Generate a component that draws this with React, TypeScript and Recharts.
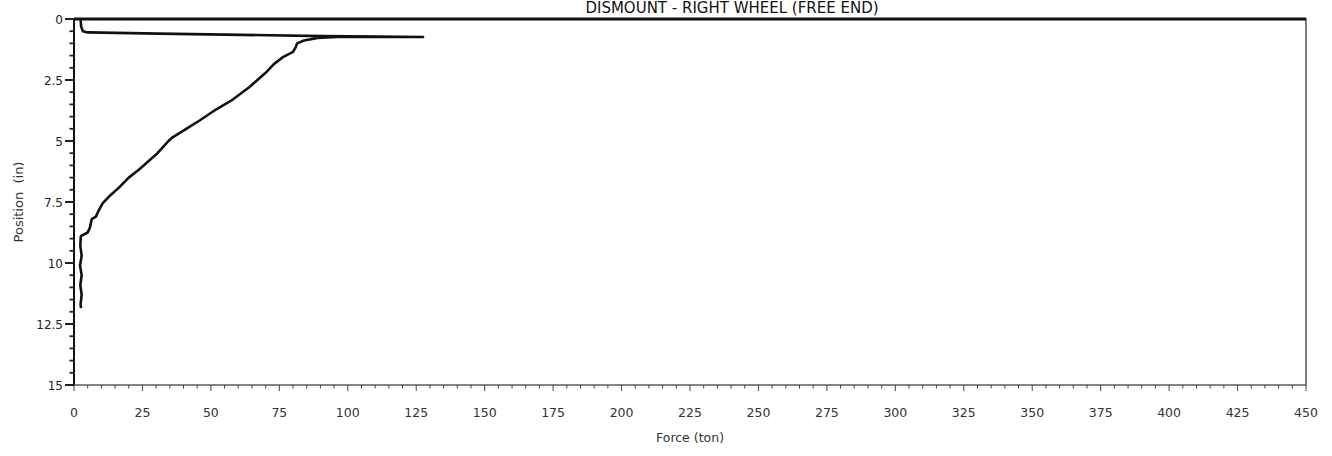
import { LineChart, Line, XAxis, YAxis, ReferenceArea, ReferenceLine } from 'recharts';

// force (ton), in drawing order
const force = [
  2.4, 2.6, 3.2, 5, 31, 61, 91, 111, 127.5, 96, 89, 84, 81.5, 81, 80, 76.5, 73, 70.5, 67, 64,
  58, 52, 46, 41, 36, 34.5, 32.5, 30.5, 28, 24, 20, 16.5, 13.5, 10.5, 9, 8, 6.5, 5.8, 5, 2.5,
  2.3, 2.8, 2.2, 2.8, 2.3, 2.8, 2.4, 2.6,
];

// position (in) matching each force value
const position = [
  0, 0.3, 0.5, 0.55, 0.6, 0.65, 0.7, 0.72, 0.74, 0.74, 0.78, 0.88, 1.0, 1.15, 1.35, 1.55, 1.85, 2.15, 2.5, 2.8,
  3.3, 3.7, 4.15, 4.5, 4.85, 5.0, 5.25, 5.5, 5.75, 6.15, 6.5, 6.9, 7.2, 7.55, 7.85, 8.1, 8.2, 8.55, 8.75, 8.9,
  9.3, 9.7, 10.1, 10.5, 10.9, 11.3, 11.7, 11.85,
];

const xMajorTicks = [0, 25, 50, 75, 100, 125, 150, 175, 200, 225, 250, 275, 300, 325, 350, 375, 400, 425, 450];
const yMajorTicks = [0, 2.5, 5, 7.5, 10, 12.5, 15];

const title = 'DISMOUNT - RIGHT WHEEL (FREE END)';
const xLabel = 'Force (ton)';
const yLabel = 'Position\u00a0\u00a0(in)';

const data = force.map((f, i) => ({ force: f, position: position[i] }));

// minor ticks: 4 between each pair of majors
const subdivide = (majors: number[]) => {
  const out: number[] = [];
  for (let i = 0; i < majors.length - 1; i++) {
    const step = (majors[i + 1] - majors[i]) / 5;
    for (let k = 0; k < 5; k++) out.push(+(majors[i] + step * k).toFixed(3));
  }
  out.push(majors[majors.length - 1]);
  return out;
};

const xTicks = subdivide(xMajorTicks);
const yTicks = subdivide(yMajorTicks);

const FONT = '"DejaVu Sans", Verdana, sans-serif';

const XTick = (props: any) => {
  const { x, y, payload } = props;
  const major = xMajorTicks.includes(payload.value);
  return (
    <g>
      <line x1={x} x2={x} y1={y} y2={y + (major ? 6 : 3.5)} stroke="#444" strokeWidth={1} />
      {major && (
        <text x={x} y={y + 32} textAnchor="middle" fontSize={12.5} fill="#333" fontFamily={FONT}>
          {payload.value}
        </text>
      )}
    </g>
  );
};

const YTick = (props: any) => {
  const { x, y, payload } = props;
  const major = yMajorTicks.includes(payload.value);
  return (
    <g>
      <line x1={x - (major ? 9 : 4.5)} x2={x} y1={y} y2={y} stroke="#222" strokeWidth={major ? 2 : 1.8} />
      {major && (
        <text x={x - 11} y={y + 4.5} textAnchor="end" fontSize={12} fill="#222" fontFamily={FONT}>
          {payload.value}
        </text>
      )}
    </g>
  );
};

export default function App() {
  return (
    <div style={{ position: 'absolute', left: 0, top: 0, width: 1332, height: 456, background: '#fff' }}>
      <svg width={1332} height={20} style={{ position: 'absolute', left: 0, top: 0 }}>
        <text x={732} y={13} textAnchor="middle" fontSize={15} fill="#111" fontFamily={FONT}>
          {title}
        </text>
      </svg>
      <LineChart
        width={1332}
        height={456}
        data={data}
        margin={{ top: 19, right: 26, bottom: 0, left: 0 }}
      >
        <XAxis
          dataKey="force"
          type="number"
          domain={[0, 450]}
          ticks={xTicks}
          interval={0}
          tick={<XTick />}
          tickLine={false}
          tickSize={0}
          tickMargin={0}
          height={71}
          axisLine={{ stroke: '#888', strokeWidth: 1.5 }}
          label={{ value: xLabel, position: 'insideBottom', offset: 14, fontSize: 12.5, fill: '#333', fontFamily: FONT }}
        />
        <YAxis
          dataKey="position"
          type="number"
          domain={[0, 15]}
          reversed
          ticks={yTicks}
          interval={0}
          tick={<YTick />}
          tickLine={false}
          tickSize={0}
          tickMargin={0}
          width={74}
          axisLine={{ stroke: '#111', strokeWidth: 2 }}
          label={{ value: yLabel, angle: -90, position: 'insideLeft', offset: 18, fontSize: 13, fill: '#333', fontFamily: FONT, style: { textAnchor: 'middle' } }}
        />
        <ReferenceArea x1={0} x2={450} y1={0} y2={15} fill="none" stroke="#555" strokeWidth={1.5} />
        <ReferenceLine y={0} stroke="#111" strokeWidth={3} />
        <Line
          dataKey="position"
          type="linear"
          stroke="#111"
          strokeWidth={2.6}
          dot={false}
          isAnimationActive={false}
          strokeLinejoin="round"
        />
      </LineChart>
    </div>
  );
}
